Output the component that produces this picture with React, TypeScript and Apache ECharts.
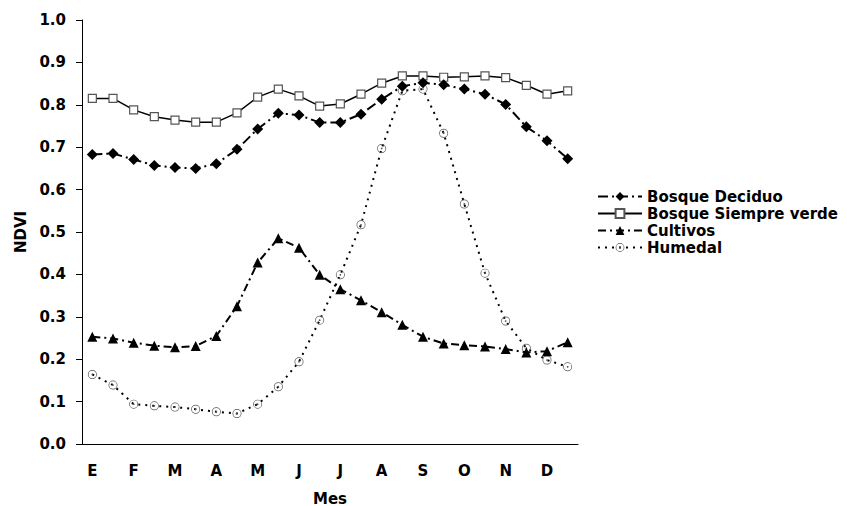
import React, { useEffect, useRef } from "react";
import * as echarts from "echarts";

const months = ["E", "F", "M", "A", "M", "J", "J", "A", "S", "O", "N", "D"];
const categories = months.flatMap((m) => [m, ""]);

const bosqueDeciduo = [0.683, 0.685, 0.671, 0.657, 0.652, 0.65, 0.661, 0.695, 0.743, 0.78, 0.776, 0.758, 0.758, 0.778, 0.813, 0.844, 0.852, 0.847, 0.837, 0.825, 0.801, 0.748, 0.715, 0.673];
const bosqueSiempreVerde = [0.815, 0.815, 0.788, 0.772, 0.764, 0.759, 0.759, 0.781, 0.818, 0.837, 0.821, 0.797, 0.802, 0.825, 0.851, 0.868, 0.868, 0.865, 0.866, 0.868, 0.864, 0.846, 0.825, 0.833];
const cultivos = [0.253, 0.249, 0.239, 0.232, 0.228, 0.231, 0.255, 0.325, 0.428, 0.485, 0.463, 0.399, 0.365, 0.339, 0.311, 0.281, 0.253, 0.237, 0.233, 0.23, 0.224, 0.216, 0.219, 0.24];
const humedal = [0.164, 0.139, 0.094, 0.09, 0.087, 0.082, 0.076, 0.072, 0.094, 0.135, 0.194, 0.292, 0.399, 0.517, 0.697, 0.833, 0.837, 0.733, 0.566, 0.403, 0.29, 0.226, 0.198, 0.182];

const FONT = "DejaVu Sans";
const dotCircle =
  "path://M10,0 A10,10 0 1,1 10,20 A10,10 0 1,1 10,0 Z M10,1.6 A8.4,8.4 0 1,0 10,18.4 A8.4,8.4 0 1,0 10,1.6 Z M10,8 A2,2 0 1,1 10,12 A2,2 0 1,1 10,8 Z";

export default function App() {
  const ref = useRef<HTMLDivElement>(null);
  useEffect(() => {
    if (!ref.current) return;
    const chart = echarts.init(ref.current, null, { renderer: "svg" });
    const text = { fontFamily: FONT, fontWeight: "bold" as const, fontSize: 15, color: "#000" };
    chart.setOption({
      animation: false,
      backgroundColor: "#fff",
      grid: { left: 82, right: 269, top: 20, bottom: 62, containLabel: false, outerBoundsMode: "none" },
      legend: {
        orient: "vertical",
        left: 592,
        top: 184,
        itemWidth: 44,
        itemHeight: 11,
        itemGap: 2,
        textStyle: { ...text, lineHeight: 14 },
        data: ["Bosque Deciduo", "Bosque Siempre verde", "Cultivos", "Humedal"],
      },
      xAxis: {
        type: "category",
        data: categories,
        boundaryGap: true,
        name: "Mes",
        nameLocation: "middle",
        nameGap: 47,
        nameTextStyle: text,
        axisLine: { lineStyle: { color: "#000", width: 1 } },
        axisTick: { interval: 1, length: 5, lineStyle: { color: "#000" } },
        axisLabel: { interval: 1, margin: 19, ...text },
        splitLine: { show: false },
      },
      yAxis: {
        type: "value",
        min: 0,
        max: 1,
        interval: 0.1,
        name: "NDVI",
        nameLocation: "middle",
        nameRotate: 90,
        nameGap: 52,
        nameTextStyle: text,
        axisLine: { show: true, lineStyle: { color: "#000", width: 1 } },
        axisTick: { show: true, length: 6, lineStyle: { color: "#000" } },
        axisLabel: { margin: 16, formatter: (v: number) => v.toFixed(1), ...text },
        splitLine: { show: false },
      },
      series: [
        {
          name: "Bosque Deciduo",
          type: "line",
          data: bosqueDeciduo,
          symbol: "diamond",
          symbolSize: 11,
          lineStyle: { color: "#000", width: 2, type: [10, 4, 2, 4] },
          itemStyle: { color: "#000" },
          z: 4,
        },
        {
          name: "Bosque Siempre verde",
          type: "line",
          data: bosqueSiempreVerde,
          symbol: "rect",
          symbolSize: 8,
          lineStyle: { color: "#000", width: 1.5, type: "solid" },
          itemStyle: { color: "#fff", borderColor: "#555", borderWidth: 1.2 },
          z: 3,
        },
        {
          name: "Cultivos",
          type: "line",
          data: cultivos,
          symbol: "triangle",
          symbolSize: 10,
          lineStyle: { color: "#000", width: 2, type: [8, 4, 2, 4] },
          itemStyle: { color: "#000" },
          z: 4,
        },
        {
          name: "Humedal",
          type: "line",
          data: humedal,
          symbol: dotCircle,
          symbolSize: 9,
          lineStyle: { color: "#000", width: 2, type: [2, 5] },
          itemStyle: { color: "#555" },
          z: 2,
        },
      ],
    });
    return () => chart.dispose();
  }, []);
  return (
    <div
      ref={ref}
      style={{ position: "fixed", left: 0, top: 0, width: 847, height: 506, background: "#fff" }}
    />
  );
}
